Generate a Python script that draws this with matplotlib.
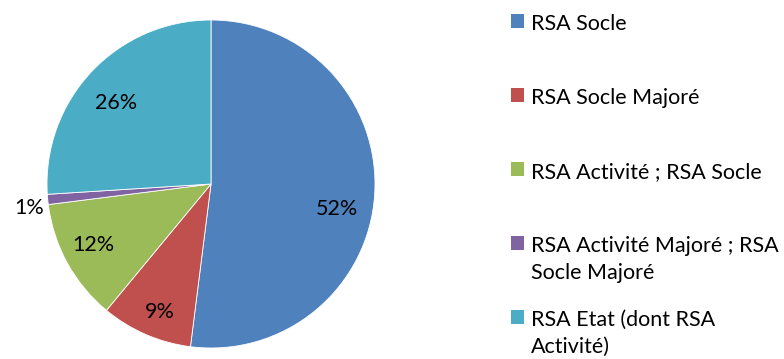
import textwrap
import numpy as np
import matplotlib
matplotlib.use("Agg")
import matplotlib.pyplot as plt
from matplotlib.patches import Rectangle

plt.rcParams["font.family"] = ["Lato", "DejaVu Sans"]

# répartition des allocataires par type de RSA
categories = [
    "RSA Socle",
    "RSA Socle Majoré",
    "RSA Activité ; RSA Socle",
    "RSA Activité Majoré ; RSA Socle Majoré",
    "RSA Etat (dont RSA Activité)",
]
parts = [52, 9, 12, 1, 26]
couleurs = ["#4F81BD", "#C0504D", "#9BBB59", "#8064A2", "#4BACC6"]

# position des étiquettes (rayon relatif, décalage d'angle en degrés)
label_r = [0.78, 0.84, 0.81, 1.12, 0.76]
label_dtheta = [-7.5, 1.5, -1.5, 2.0, 2.7]

W, H = 784, 359
fig = plt.figure(figsize=(W / 100, H / 100), dpi=100)

cx, cy, R = 211, 175, 164
ax = fig.add_axes([(cx - R) / W, (cy - R) / H, 2 * R / W, 2 * R / H])

wedges, _ = ax.pie(parts, colors=couleurs, startangle=90, counterclock=False,
                   radius=1, wedgeprops=dict(edgecolor="white", linewidth=0.6))
ax.set_xlim(-1, 1)
ax.set_ylim(-1, 1)
ax.set_aspect("equal")
ax.axis("off")

total = sum(parts)
for w, v, r, dt in zip(wedges, parts, label_r, label_dtheta):
    ang = np.deg2rad((w.theta1 + w.theta2) / 2 + dt)
    ax.text(r * np.cos(ang), r * np.sin(ang), f"{round(100 * v / total)}%",
            ha="center", va="center", fontsize=15.5, color="black")

# légende à droite
lx, ly0, dy = 511, 21, 74
for i, (lab, c) in enumerate(zip(categories, couleurs)):
    y = ly0 + i * dy
    fig.patches.append(Rectangle((lx / W, 1 - (y + 7) / H), 13 / W, 14 / H,
                                 transform=fig.transFigure, facecolor=c,
                                 edgecolor="none"))
    fig.text((lx + 20) / W, 1 - (y - 7) / H, textwrap.fill(lab, 25),
             ha="left", va="top", fontsize=15.5, linespacing=1.45)

fig.savefig("out.png", dpi=100)
